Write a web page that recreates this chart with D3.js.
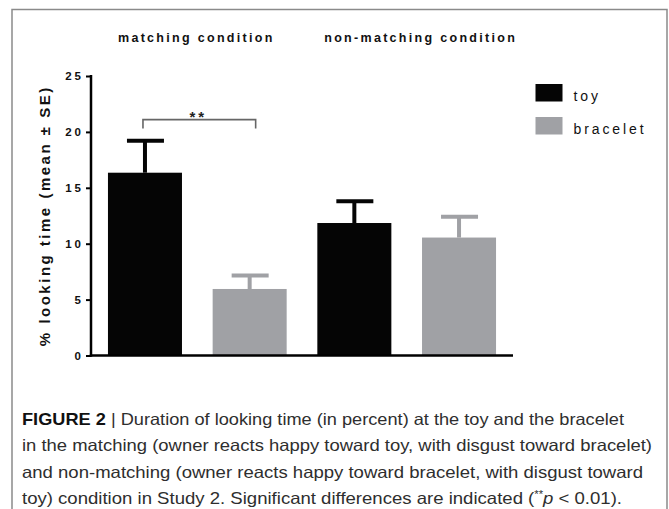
<!DOCTYPE html>
<html>
<head>
<meta charset="utf-8">
<script src="https://cdn.jsdelivr.net/npm/d3@7"></script>
<style>
  body { margin: 0; background: #fff; }
  svg { display: block; font-family: "Liberation Sans", Arial, sans-serif; }
</style>
</head>
<body>
<script>
// data
const conditions = ["matching condition", "non-matching condition"];
const objects = ["toy", "bracelet"];
const meanToy = [16.35, 11.85];
const meanBracelet = [5.95, 10.55];
const seToy = [2.85, 1.95];
const seBracelet = [1.2, 1.85];
const yTicks = [0, 5, 10, 15, 20, 25];
const colors = ["#050505", "#a0a1a5"];

const bars = [];
conditions.forEach((c, i) => {
	bars.push({cond: c, obj: "toy", mean: meanToy[i], se: seToy[i]});
	bars.push({cond: c, obj: "bracelet", mean: meanBracelet[i], se: seBracelet[i]});
});
const key = d => d.cond + "|" + d.obj;

const width = 669, height = 509;

let svg = d3.select("body")
	.append("svg")
	.attr("width", width)
	.attr("height", height);

//frame (open at the bottom)
svg.append("path")
	.attr("d", `M12,${height}V9.5H667V${height}`)
	.attr("fill", "none")
	.attr("stroke", "#8a8a8a")
	.attr("stroke-width", 1.5);

//scales
const x = d3.scaleBand()
	.domain(bars.map(key))
	.range([91, 513])
	.paddingInner(0.293)
	.paddingOuter(0.162);

const y = d3.scaleLinear()
	.domain([0, 25])
	.range([355.5, 76]);

const color = d3.scaleOrdinal().domain(objects).range(colors);

//bars
svg.append("g")
	.selectAll("rect")
	.data(bars)
	.join("rect")
		.attr("x", d => x(key(d)))
		.attr("y", d => y(d.mean))
		.attr("width", x.bandwidth())
		.attr("height", d => y(0) - y(d.mean))
		.attr("fill", d => color(d.obj));

//error bars
const err = svg.append("g")
	.selectAll("g")
	.data(bars)
	.join("g")
		.attr("stroke", d => color(d.obj))
		.attr("stroke-width", 4);
err.append("line")
	.attr("x1", d => x(key(d)) + x.bandwidth() / 2)
	.attr("x2", d => x(key(d)) + x.bandwidth() / 2)
	.attr("y1", d => y(d.mean))
	.attr("y2", d => y(d.mean + d.se));
err.append("line")
	.attr("x1", d => x(key(d)) + x.bandwidth() / 4 + 0.5)
	.attr("x2", d => x(key(d)) + x.bandwidth() * 3 / 4 + 0.5)
	.attr("y1", d => y(d.mean + d.se))
	.attr("y2", d => y(d.mean + d.se));

//axes
const yAxis = d3.axisLeft(y)
	.tickValues(yTicks)
	.tickSize(5)
	.tickSizeOuter(0)
	.tickPadding(4);

svg.append("g")
	.attr("transform", "translate(91,0)")
	.call(yAxis)
	.call(g => g.select(".domain").attr("stroke-width", 2.5).attr("d", `M0,${y(25) - 1}V${y(0) + 1.2}`))
	.call(g => g.selectAll(".tick line").attr("stroke-width", 2))
	.call(g => g.selectAll(".tick text")
		.attr("font-size", 11.5)
		.attr("font-weight", "bold")
		.attr("fill", "#111")
		.attr("letter-spacing", 3)
		.attr("dx", 2));

svg.append("g")
	.attr("transform", `translate(0,${y(0)})`)
	.call(d3.axisBottom(x).tickValues([]).tickSizeOuter(0))
	.call(g => g.select(".domain").attr("stroke-width", 2.5).attr("d", "M89.8,0H513"));

//axis title
svg.append("text")
	.attr("transform", `translate(50,${(y(0) + y(25)) / 2}) rotate(-90)`)
	.attr("text-anchor", "middle")
	.attr("font-size", 15)
	.attr("font-weight", "bold")
	.attr("letter-spacing", 2.5)
	.attr("fill", "#111")
	.text("% looking time (mean \u00b1 SE)");

//condition headers
const groupCenter = c => {
	const b = bars.filter(d => d.cond === c);
	return (x(key(b[0])) + x(key(b[1])) + x.bandwidth()) / 2;
};
svg.append("g")
	.selectAll("text")
	.data(conditions)
	.join("text")
		.attr("x", (c, i) => groupCenter(c) + (i ? 14 : -1))
		.attr("y", 42)
		.attr("text-anchor", "middle")
		.attr("font-size", 12.5)
		.attr("font-weight", "bold")
		.attr("letter-spacing", 2.3)
		.attr("fill", "#111")
		.text(d => d);

//significance bracket
const b1 = bars[0], b2 = bars[1];
const bx1 = x(key(b1)) + x.bandwidth() / 2 - 2;
const bx2 = x(key(b2)) + x.bandwidth() / 2 + 6;
const by = y(21.1);
svg.append("path")
	.attr("d", `M${bx1},${by + 9}V${by}H${bx2}V${by + 9}`)
	.attr("fill", "none")
	.attr("stroke", "#666")
	.attr("stroke-width", 1.6);
svg.append("text")
	.attr("x", (bx1 + bx2) / 2 - 1)
	.attr("y", by + 2)
	.attr("text-anchor", "middle")
	.attr("font-size", 15)
	.attr("font-weight", "bold")
	.attr("letter-spacing", 3)
	.attr("fill", "#222")
	.text("**");

//legend
const legend = svg.append("g")
	.selectAll("g")
	.data(objects)
	.join("g")
		.attr("transform", (d, i) => `translate(535.5,${84 + i * 33})`);
legend.append("rect")
	.attr("width", 27)
	.attr("height", 17.5)
	.attr("fill", d => color(d));
legend.append("text")
	.attr("x", 38)
	.attr("y", 16.5)
	.attr("font-size", 14)
	.attr("letter-spacing", 2.9)
	.attr("fill", "#111")
	.text(d => d);

//caption
const captionLines = [
	"Duration of looking time (in percent) at the toy and the bracelet",
	"in the matching (owner reacts happy toward toy, with disgust toward bracelet)",
	"and non-matching (owner reacts happy toward bracelet, with disgust toward",
	"toy) condition in Study 2. Significant differences are indicated ("
];
const captionWidths = [602, 630, 621, 600];
const cap = svg.append("g")
	.attr("font-size", 16.5)
	.attr("fill", "#2e2e2e");
captionLines.forEach((line, i) => {
	const t = cap.append("text")
		.attr("x", 22)
		.attr("y", 425 + i * 26.3)
		.attr("textLength", captionWidths[i])
		.attr("lengthAdjust", "spacingAndGlyphs");
	if (i === 0) {
		t.append("tspan").attr("font-weight", "bold").attr("fill", "#111").text("FIGURE 2");
		t.append("tspan").text(" | " + line);
	} else if (i === 3) {
		t.append("tspan").text(line);
		t.append("tspan").attr("font-size", 10).attr("dy", -6).text("**");
		t.append("tspan").attr("font-style", "italic").attr("dy", 6).text("p");
		t.append("tspan").text(" < 0.01).");
	} else {
		t.text(line);
	}
});
</script>
</body>
</html>
